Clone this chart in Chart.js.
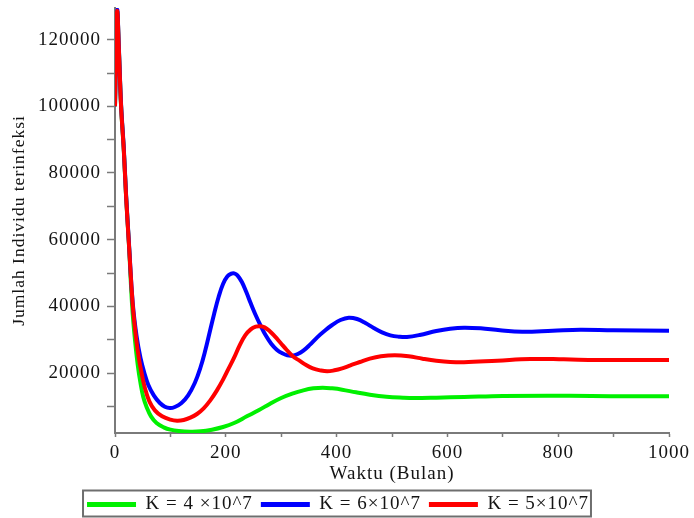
<!DOCTYPE html>
<html>
<head>
<meta charset="utf-8">
<script src="https://cdn.jsdelivr.net/npm/chart.js@4/dist/chart.umd.min.js"></script>
<style>
    body { margin: 0; background: #fff; }
    canvas { display: block; }
</style>
</head>
<body>
<canvas id="infeksiChart" width="694" height="518"></canvas>
<script>
// Time points (months) and infected counts, one pair per K
const greenT = [0, 2, 4, 7, 11, 16, 20, 25, 31, 36, 41, 46, 51, 57, 65, 75, 88, 100, 115, 136, 155, 175, 195, 215, 238, 260, 280, 300, 320, 340, 358, 375, 392, 410, 435, 460, 490, 520, 540, 580, 630, 700, 780, 860, 930, 1000];
const greenV = [100000, 117000, 128500, 117000, 100000, 86500, 73000, 59000, 40000, 30000, 22500, 17000, 12800, 9800, 7000, 5000, 3700, 3000, 2600, 2400, 2500, 3000, 3800, 5000, 7000, 8900, 10800, 12500, 13800, 14800, 15400, 15600, 15400, 15000, 14200, 13500, 12900, 12600, 12500, 12600, 12800, 13100, 13200, 13100, 13000, 13000];

const blueT = [0, 2, 4, 7, 11, 16, 20, 25, 32, 39, 46, 53, 60, 70, 81, 90, 99, 108, 120, 132, 144, 154, 163, 171, 179, 187, 195, 203, 210, 215, 221, 229, 237, 245, 253, 262, 272, 282, 292, 302, 311, 320, 330, 340, 352, 365, 378, 392, 407, 422, 437, 452, 467, 482, 497, 512, 527, 550, 580, 605, 630, 660, 695, 735, 790, 840, 900, 1000];
const blueV = [100000, 117000, 129000, 117500, 100500, 87000, 73500, 59500, 41000, 31000, 24500, 20000, 16500, 13300, 11000, 9900, 9500, 9800, 11000, 13300, 17000, 21500, 26800, 32300, 37800, 42800, 46700, 49000, 49800, 49900, 49300, 47300, 44300, 40900, 37700, 34500, 31300, 28800, 27000, 25900, 25300, 25200, 25700, 26700, 28500, 30700, 32600, 34400, 35900, 36600, 36200, 35000, 33500, 32200, 31300, 30900, 30800, 31400, 32600, 33300, 33600, 33400, 32800, 32400, 32700, 33000, 32800, 32700];

const redT = [0, 2, 4, 7, 11, 16, 20, 25, 32, 38, 43, 48, 54, 62, 72, 85, 100, 112, 124, 136, 148, 160, 172, 184, 195, 205, 215, 225, 235, 245, 254, 262, 270, 279, 289, 299, 310, 321, 333, 345, 357, 370, 383, 396, 410, 425, 442, 460, 480, 505, 530, 555, 580, 605, 630, 690, 750, 810, 870, 1000];
const redV = [100000, 117000, 128700, 117000, 100000, 86500, 73000, 59000, 40500, 30500, 24500, 20000, 15500, 11500, 8800, 7000, 6000, 5700, 5900, 6600, 7700, 9400, 11800, 14800, 18000, 21300, 24600, 28300, 31300, 33100, 33900, 34000, 33700, 32600, 30900, 29000, 26900, 25000, 23700, 22400, 21400, 20800, 20500, 20800, 21400, 22300, 23300, 24300, 25000, 25300, 25000, 24300, 23700, 23300, 23200, 23700, 24200, 24100, 23900, 23900];

const seriesLabels = ["K = 4 \u00d710^7", "K = 6\u00d710^7", "K = 5\u00d710^7"];

// Axis ticks (minor ones get an empty label)
const xTicks = [0, 100, 200, 300, 400, 500, 600, 700, 800, 900, 1000];
const xLabels = [0, 200, 400, 600, 800, 1000];
const yTicks = [10000, 20000, 30000, 40000, 50000, 60000, 70000, 80000, 90000, 100000, 110000, 120000];
const yLabels = [20000, 40000, 60000, 80000, 100000, 120000];

function toPoints(ts, vs) {
    return ts.map((t, i) => ({ x: t, y: vs[i] }));
}

const AXIS_GRAY = "#7a7a7a";
const TEXT = "#141414";

Chart.defaults.font.family = '"Liberation Serif", "Times New Roman", serif';
Chart.defaults.font.size = 19;
Chart.defaults.color = TEXT;

/* -------------------------------
   Small helpers as plugins
---------------------------------*/
// slightly wider text, the original looks stretched sideways
const spacingPlugin = {
    id: "spacing",
    beforeUpdate(chart) { chart.ctx.letterSpacing = "1px"; },
    beforeDraw(chart) { chart.ctx.letterSpacing = "1px"; }
};

// frame around the legend row
const legendFrame = {
    id: "legendFrame",
    afterDraw(chart) {
        const hb = chart.legend && chart.legend.legendHitBoxes;
        if (!hb || !hb.length) return;
        const last = hb[hb.length - 1];
        const left = hb[0].left - 4;
        const right = last.left + last.width + 2;
        const top = hb[0].top - 4.5;
        const ctx = chart.ctx;
        ctx.save();
        ctx.strokeStyle = "#6e6e6e";
        ctx.lineWidth = 2;
        ctx.strokeRect(left, top, right - left, 26);
        ctx.restore();
    }
};

function makeDataset(label, ts, vs, color, order) {
    return {
        label,
        data: toPoints(ts, vs),
        borderColor: color,
        backgroundColor: color,
        borderWidth: 4,
        pointRadius: 0,
        tension: 0.4,
        order
    };
}

const ctx = document.getElementById("infeksiChart").getContext("2d");

new Chart(ctx, {
    type: "line",
    data: {
        datasets: [
            makeDataset(seriesLabels[0], greenT, greenV, "#00f000", 3),
            makeDataset(seriesLabels[1], blueT, blueV, "#0000ff", 2),
            makeDataset(seriesLabels[2], redT, redV, "#ff0000", 1)
        ]
    },
    options: {
        responsive: false,
        animation: false,
        layout: { padding: { left: 0, right: 18, top: 0, bottom: -6 } },
        plugins: {
            tooltip: { enabled: false },
            legend: {
                position: "bottom",
                labels: {
                    boxWidth: 49,
                    boxHeight: 5,
                    padding: 8,
                    color: TEXT,
                    sort: (a, b) => a.datasetIndex - b.datasetIndex,
                    generateLabels: (chart) =>
                        Chart.defaults.plugins.legend.labels.generateLabels(chart)
                            .map(item => ({ ...item, lineWidth: 0 }))
                }
            }
        },
        scales: {
            x: {
                type: "linear",
                min: 0,
                max: 1000,
                afterBuildTicks: (scale) => { scale.ticks = xTicks.map(v => ({ value: v })); },
                afterFit: (scale) => { scale.height = 54; scale.paddingRight = 25; },
                ticks: {
                    autoSkip: false,
                    maxRotation: 0,
                    padding: 5,
                    color: TEXT,
                    callback: (v) => xLabels.includes(v) ? String(v) : ""
                },
                grid: { drawOnChartArea: false, tickLength: 4, tickColor: AXIS_GRAY, tickWidth: 1.5 },
                border: { color: AXIS_GRAY, width: 2 },
                title: { display: true, text: "Waktu (Bulan)", color: TEXT, padding: { top: 0, bottom: 2 } }
            },
            y: {
                min: 2000,
                max: 129500,
                afterBuildTicks: (scale) => { scale.ticks = yTicks.map(v => ({ value: v })); },
                afterFit: (scale) => { scale.width = 115; scale.paddingTop = 8; scale.paddingBottom = 0; },
                ticks: {
                    autoSkip: false,
                    padding: 6,
                    color: TEXT,
                    callback: (v) => yLabels.includes(v) ? String(v) : ""
                },
                grid: { drawOnChartArea: false, tickLength: 8, tickColor: AXIS_GRAY, tickWidth: 1.5 },
                border: { color: AXIS_GRAY, width: 2 },
                title: {
                    display: true,
                    text: "Jumlah Individu terinfeksi",
                    color: TEXT,
                    font: { size: 17.5 },
                    padding: { top: 9, bottom: 0 }
                }
            }
        }
    },
    plugins: [spacingPlugin, legendFrame]
});
</script>
</body>
</html>
